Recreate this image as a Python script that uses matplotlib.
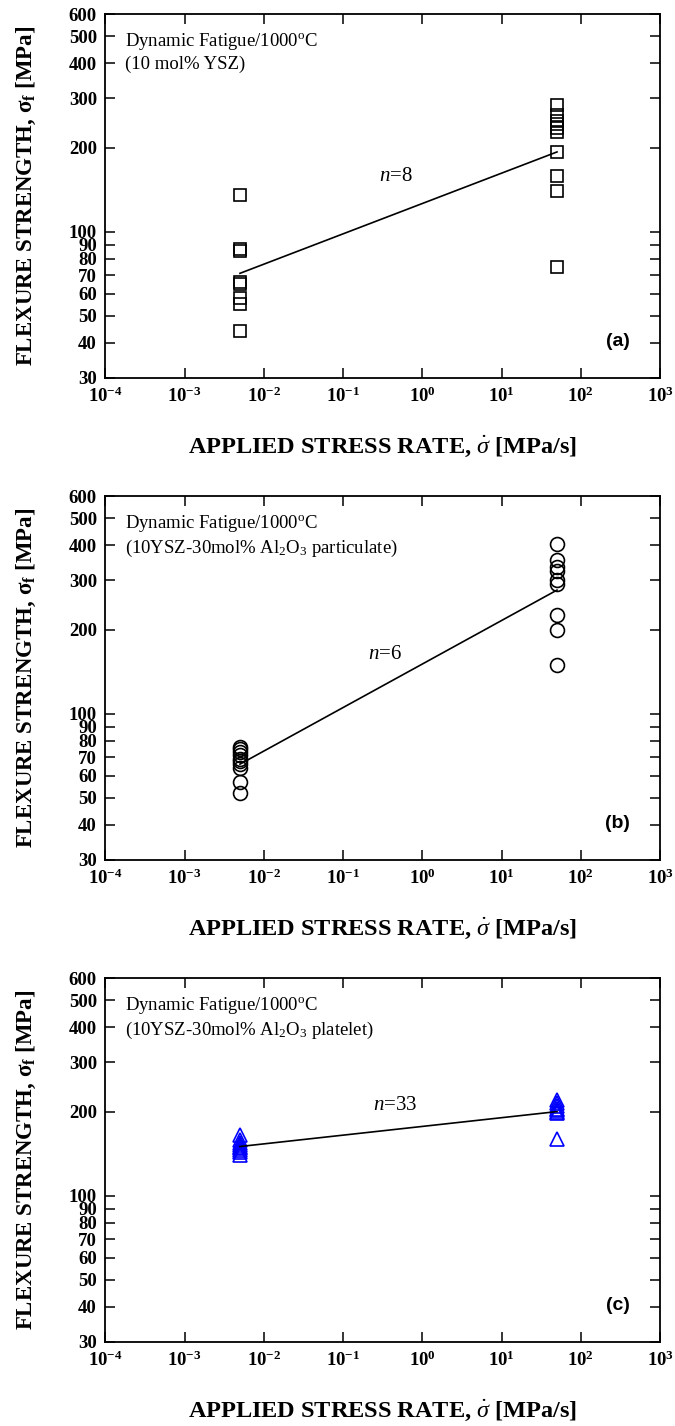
import matplotlib
matplotlib.use("Agg")
import matplotlib.pyplot as plt
import numpy as np

plt.rcParams['font.family'] = 'Liberation Serif'
plt.rcParams['mathtext.fontset'] = 'custom'
plt.rcParams['mathtext.rm'] = 'Liberation Serif'
plt.rcParams['mathtext.it'] = 'Liberation Serif:italic'
plt.rcParams['mathtext.bf'] = 'Liberation Serif:bold'

# stress rates used in the tests [MPa/s]
rate_low = 5e-3
rate_high = 50.0

# (a) 10 mol% YSZ
ysz_low = [135, 87, 85, 66, 65, 58, 55, 44]
ysz_high = [283, 262, 250, 242, 235, 228, 193, 158, 140, 75]
ysz_fit = [71, 193]

# (b) 10YSZ-30mol% Al2O3 particulate
part_low = [76, 75, 73, 71, 69, 68, 66, 64, 57, 52]
part_high = [405, 355, 335, 325, 300, 290, 225, 200, 150]
part_fit = [66, 277]

# (c) 10YSZ-30mol% Al2O3 platelet
plat_low = [165, 158, 155, 152, 150, 148, 146, 143, 140]
plat_high = [220, 215, 210, 205, 202, 200, 197, 160]
plat_fit = [150, 200]

yticks = [30, 40, 50, 60, 70, 80, 90, 100, 200, 300, 400, 500, 600]
xticks = [1e-4, 1e-3, 1e-2, 1e-1, 1e0, 1e1, 1e2, 1e3]
xlabels = [r'$\mathbf{10^{-4}}$', r'$\mathbf{10^{-3}}$', r'$\mathbf{10^{-2}}$', r'$\mathbf{10^{-1}}$',
           r'$\mathbf{10^{0}}$', r'$\mathbf{10^{1}}$', r'$\mathbf{10^{2}}$', r'$\mathbf{10^{3}}$']

panels = [
    (ysz_low, ysz_high, ysz_fit, 's', 'black', 9, '8', (0.47, 157),
     '(10 mol% YSZ)', '(a)'),
    (part_low, part_high, part_fit, 'o', 'black', 10, '6', (0.34, 163),
     r'(10YSZ-30mol% Al$_2$O$_3$ particulate)', '(b)'),
    (plat_low, plat_high, plat_fit, '^', 'blue', 9.5, '33', (0.46, 211),
     r'(10YSZ-30mol% Al$_2$O$_3$ platelet)', '(c)'),
]

fig = plt.figure(figsize=(6.75, 14.26), dpi=100)
bottoms = [0.735, 0.397, 0.059]

for (low, high, fit, mk, col, ms, nval, npos, material, tag), b in zip(panels, bottoms):
    ax = fig.add_axes([0.156, b, 0.822, 0.255])
    ax.set_xscale('log')
    ax.set_yscale('log')
    ax.plot([rate_low] * len(low), low, linestyle='none', marker=mk, ms=ms,
            mfc='none', mec=col, mew=1.2)
    ax.plot([rate_high] * len(high), high, linestyle='none', marker=mk, ms=ms,
            mfc='none', mec=col, mew=1.2)
    ax.plot([rate_low, rate_high], fit, color='black', lw=1.2)

    ax.set_xlim(1e-4, 1e3)
    ax.set_ylim(30, 600)
    ax.set_xticks(xticks)
    ax.set_xticklabels(xlabels, fontsize=13.5)
    ax.xaxis.set_minor_locator(matplotlib.ticker.NullLocator())
    ax.set_yticks(yticks)
    ax.set_yticklabels([str(v) for v in yticks], fontsize=13.5, fontweight='bold')
    ax.yaxis.set_minor_locator(matplotlib.ticker.NullLocator())
    ax.tick_params(which='both', direction='in', top=True, right=True, length=7, width=1.1, pad=6)
    for s in ax.spines.values():
        s.set_linewidth(1.3)

    ax.text(0.035, 0.955, r'Dynamic Fatigue/1000$^{\rm o}$C', transform=ax.transAxes,
            fontsize=13.5, va='top')
    ax.text(0.035, 0.885, material, transform=ax.transAxes, fontsize=13.5, va='top')

    ax.text(npos[0], npos[1], r'$n$=' + nval, fontsize=15, ha='center', va='center')

    ax.text(0.945, 0.1, tag, transform=ax.transAxes, fontsize=14, fontweight='bold',
            family='Liberation Sans', ha='right', va='center')

    ax.set_ylabel(r'FLEXURE STRENGTH, $\mathbf{\sigma_f}$ [MPa]', fontsize=16.5,
                  fontweight='bold', labelpad=22)
    ax.set_xlabel(r'APPLIED STRESS RATE, $\dot{\sigma}$ [MPa/s]', fontsize=17.5,
                  fontweight='bold', labelpad=20)

fig.savefig('out.png', dpi=100)
